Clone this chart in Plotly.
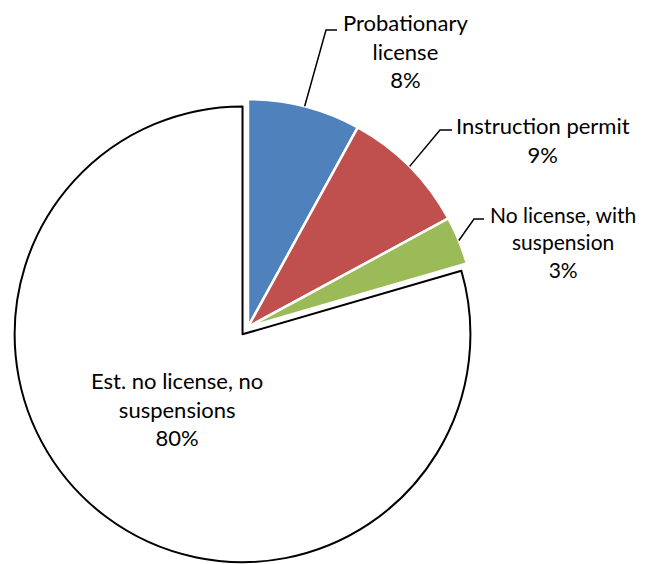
import math
import plotly.graph_objects as go

# ---- data ----
labels = ["Probationary license", "Instruction permit", "No license, with suspension", "Est. no license, no suspensions"]
label_text = ["Probationary<br>license", "Instruction permit", "No license, with<br>suspension", "Est. no license, no<br>suspensions"]
values = [8.0, 9.1, 3.4, 79.5]
colors = ["#4F81BD", "#C0504D", "#9BBB59", "#FFFFFF"]
line_colors = ["#FFFFFF", "#FFFFFF", "#FFFFFF", "#000000"]
pulls = [0, 0, 0, 0.04]

# page body has an 8px margin, so the figure fills the rest of the window
W, H = 644, 556
cx_t, cy_t, half = 240, 319, 237
dom_x = [(cx_t - half) / W, (cx_t + half) / W]
dom_y = [1 - (cy_t + half) / H, 1 - (cy_t - half) / H]

fig = go.Figure(go.Pie(
    labels=labels, values=values, sort=False, direction="clockwise", rotation=0,
    marker=dict(colors=colors, line=dict(color=line_colors, width=[2.5, 2.5, 2.5, 2])),
    pull=pulls, textinfo="none", hoverinfo="label+percent", showlegend=False,
    domain=dict(x=dom_x, y=dom_y),
))

# replicate pie geometry (pixels, top-left origin of the figure)
boxW = W * (dom_x[1] - dom_x[0])
boxH = H * (dom_y[1] - dom_y[0])
r = min(boxW, boxH) / (2 + 2 * max(pulls))
cx = W * (dom_x[0] + dom_x[1]) / 2
cy = H * (1 - dom_y[0]) - boxH / 2

total = sum(values)
pcts = [v / total * 100 for v in values]

# label placement (figure pixels): text center, knee of leader, end of leader
label_pos = [(397, 43), (535, 132), (555, 234), (169, 401)]
label_size = [22, 22, 21, 22]
knees = [((318, 22), (329, 22)), ((432, 122), (444, 122)), ((466, 211), (476, 211)), None]

def px2paper(x, y):
    return x / W, 1 - y / H

cum = 0.0
for i, v in enumerate(values):
    mid = (cum + v / 2) / total * 2 * math.pi
    cum += v
    ax, ay = label_pos[i]
    px, py = px2paper(ax, ay)
    fig.add_annotation(x=px, y=py, xref="paper", yref="paper", showarrow=False,
                       text=f"{label_text[i]}<br>{round(pcts[i])}%",
                       font=dict(family="Lato", size=label_size[i], color="#000000"),
                       xanchor="center", yanchor="middle", align="center")
    if knees[i] is not None:
        sx = cx + r * math.sin(mid)
        sy = cy - r * math.cos(mid)
        (k1x, k1y), (k2x, k2y) = knees[i]
        p0 = px2paper(sx, sy)
        p1 = px2paper(k1x, k1y)
        p2 = px2paper(k2x, k2y)
        fig.add_shape(type="path", xref="paper", yref="paper",
                      path=f"M {p0[0]} {p0[1]} L {p1[0]} {p1[1]} L {p2[0]} {p2[1]}",
                      line=dict(color="#000000", width=1.5))

fig.update_layout(width=W, height=H, margin=dict(l=0, r=0, t=0, b=0),
                  paper_bgcolor="#FFFFFF", plot_bgcolor="#FFFFFF")
fig.write_html("out.html")
